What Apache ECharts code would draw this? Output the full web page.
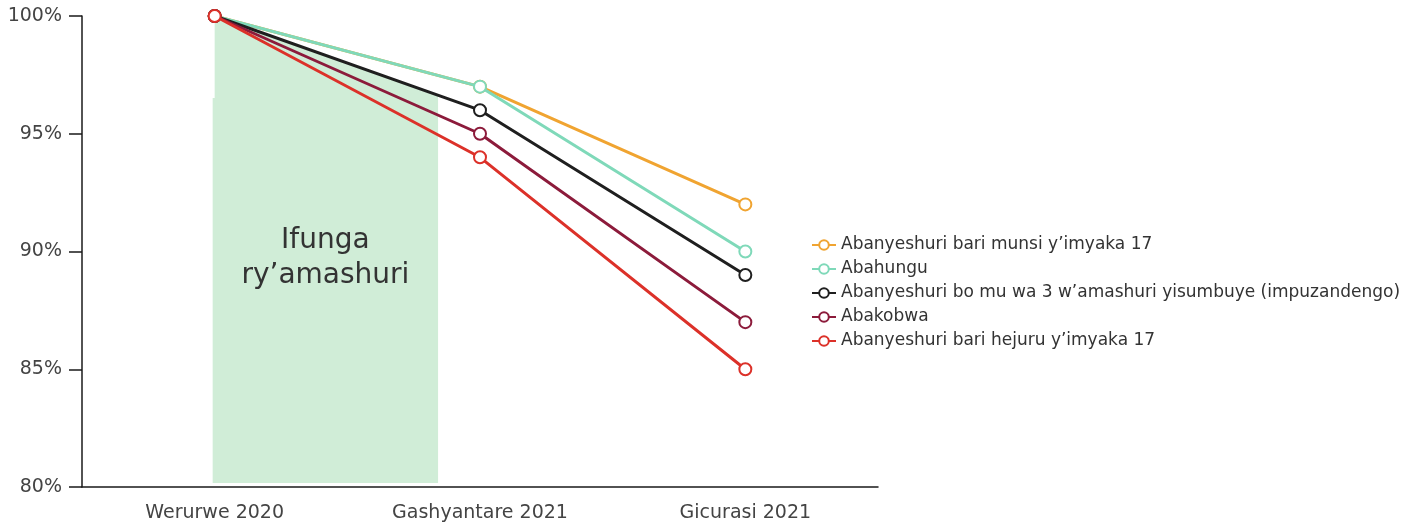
<!DOCTYPE html>
<html>
<head>
<meta charset="utf-8">
<script src="https://cdn.jsdelivr.net/npm/echarts@6/dist/echarts.min.js"></script>
<style>html,body{margin:0;padding:0;background:#fff}#c{width:1417px;height:524px}</style>
</head>
<body>
<div id="c"></div>
<script>
const categories = ['Werurwe 2020', 'Gashyantare 2021', 'Gicurasi 2021'];
const seriesNames = [
  'Abanyeshuri bari munsi y\u2019imyaka 17',
  'Abahungu',
  'Abanyeshuri bo mu wa 3 w\u2019amashuri yisumbuye (impuzandengo)',
  'Abakobwa',
  'Abanyeshuri bari hejuru y\u2019imyaka 17'
];
const under17 = [100, 97, 92];
const boys = [100, 97, 90];
const average = [100, 96, 89];
const girls = [100, 95, 87];
const over17 = [100, 94, 85];
const seriesValues = [under17, boys, average, girls, over17];
const colors = ['#f0a431', '#7fd9b9', '#1f1f1f', '#8c1b3b', '#dc3129'];
const yTicks = [80, 85, 90, 95, 100];
const closureLabel = 'Ifunga\nry\u2019amashuri';
// closure band: from first category to a fraction of the way to the second
const closureEndFraction = 0.842;
const closureBottom = 80.17;
const closureRectTop = 96.52;
const closureTopEnd = 96.6;
const closureLabelValue = 89.7;

const FONT = '"DejaVu Sans", "Open Sans", sans-serif';
const chart = echarts.init(document.getElementById('c'), null, {renderer: 'canvas'});

const lineSeries = seriesNames.map((name, i) => ({
  name: name,
  type: 'line',
  data: seriesValues[i],
  symbol: 'emptyCircle',
  symbolSize: 12,
  lineStyle: {color: colors[i], width: 3},
  itemStyle: {color: colors[i], borderColor: colors[i], borderWidth: 3},
  emphasis: {disabled: true},
  z: 3 + i
}));

const closureSeries = {
  type: 'custom',
  name: 'closure',
  silent: true,
  z: 1,
  data: [[0]],
  renderItem: function (params, api) {
    const x0 = api.coord([0, 100])[0];
    const x1 = api.coord([1, 100])[0];
    const xR = x0 + closureEndFraction * (x1 - x0);
    const yB = api.coord([0, closureBottom])[1];
    const yTop0 = api.coord([0, 100])[1];
    const yTopR = api.coord([0, closureTopEnd])[1];
    const yRect = api.coord([0, closureRectTop])[1];
    const yLab = api.coord([0, closureLabelValue])[1];
    return {
      type: 'group',
      children: [
        {type: 'polygon', shape: {points: [[x0 - 2, yB], [x0 - 2, yRect], [x0, yRect], [x0, yTop0], [xR, yTopR], [xR, yB]]}, style: {fill: '#d0edd7'}},
        {type: 'text', x: (x0 - 2 + xR) / 2, y: yLab, style: {text: closureLabel, fill: '#333333', font: '28px ' + FONT, align: 'center', verticalAlign: 'middle', lineHeight: 35}}
      ]
    };
  }
};

chart.setOption({
  animation: false,
  backgroundColor: '#ffffff',
  grid: {left: 82, right: 539, top: 16, bottom: 37, containLabel: false},
  legend: {
    orient: 'vertical',
    left: 806,
    top: 231,
    itemWidth: 24,
    itemHeight: 12,
    itemGap: 6,
    data: seriesNames,
    textStyle: {fontFamily: FONT, fontSize: 17, color: '#333333', lineHeight: 18},
    selectedMode: false
  },
  xAxis: {
    type: 'category',
    data: categories,
    boundaryGap: true,
    axisLine: {lineStyle: {color: '#1a1a1a', width: 1.5}},
    axisTick: {alignWithLabel: true, length: 13, lineStyle: {color: '#1a1a1a', width: 1.5}},
    axisLabel: {fontFamily: FONT, fontSize: 19, color: '#444444', margin: 17},
    splitLine: {show: false}
  },
  yAxis: {
    type: 'value',
    min: yTicks[0],
    max: yTicks[yTicks.length - 1],
    interval: 5,
    axisLine: {show: true, lineStyle: {color: '#1a1a1a', width: 1.5}},
    axisTick: {show: true, length: 13, lineStyle: {color: '#1a1a1a', width: 1.5}},
    axisLabel: {fontFamily: FONT, fontSize: 19, color: '#444444', margin: 20, formatter: '{value}%'},
    splitLine: {show: false}
  },
  series: [closureSeries].concat(lineSeries)
});
</script>
</body>
</html>
